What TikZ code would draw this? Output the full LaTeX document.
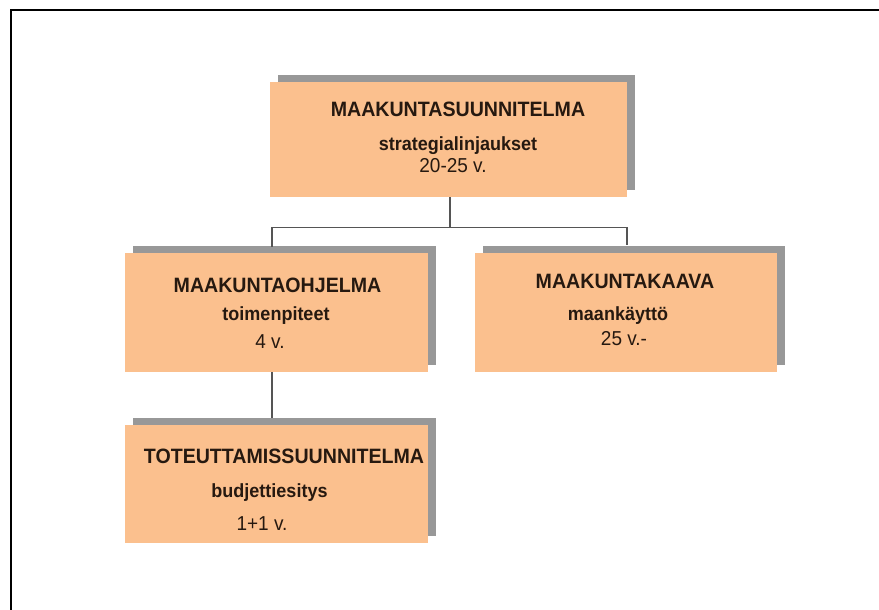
\documentclass[tikz,border=0pt]{standalone}
\usepackage{fontspec}
\setmainfont{Liberation Sans}
\usepackage{xcolor}
\usetikzlibrary{shadows}
\definecolor{boxfill}{RGB}{251,192,142}
\definecolor{boxshade}{RGB}{152,152,152}
\definecolor{inktext}{RGB}{38,25,16}
\definecolor{wiregray}{RGB}{85,85,85}
\newcommand\headfont{\fontsize{19.6}{22}\selectfont\bfseries}
\newcommand\subfont{\fontsize{18}{20}\selectfont\bfseries}
\newcommand\spanfont{\fontsize{19}{21}\selectfont}

\begin{document}
\begin{tikzpicture}[x=1pt, y=-1pt,
		box/.style={fill=boxfill, inner sep=0, minimum width=303pt, minimum height=119pt,
			general shadow={fill=boxshade, shadow xshift=8pt, shadow yshift=7pt}},
		head/.style={anchor=base, text=inktext, inner sep=0, font=\headfont, yscale=1.06},
		sub/.style={anchor=base, text=inktext, inner sep=0, font=\subfont, yscale=1.06},
		span/.style={anchor=base, text=inktext, inner sep=0, font=\spanfont, yscale=1.06},
		wire/.style={draw=wiregray, line width=1.2pt}]
	\useasboundingbox (0,0) rectangle (879,610);
	% outer frame
	\draw[black, line width=1.5pt] (11,610) -- (11,10) -- (879,10);
	% boxes
	\node[box, minimum width=357pt, minimum height=115pt] (plan) at (448.5,139.5) {};
	\node[box] (ohjelma) at (276.5,312.5) {};
	\node[box, minimum width=302pt] (kaava) at (626,312.5) {};
	\node[box, minimum height=118pt] (toteutus) at (276.5,484) {};
	% connectors
	\draw[wire] ([xshift=1.5pt]plan.south) -- ++(0,30) coordinate (fork);
	\draw[wire] ([xshift=-4.5pt,yshift=6pt]ohjelma.north) |- (fork) -| ([xshift=1pt,yshift=8pt]kaava.north);
	\draw[wire] ([xshift=-4.5pt]ohjelma.south) -- ([xshift=-4.5pt,yshift=7pt]toteutus.north);
	% texts
	\node[head] (plan-head) at (458,117) {MAAKUNTASUUNNITELMA};
	\node[sub] (plan-sub) at (458,150) {strategialinjaukset};
	\node[span] (plan-span) at (453,172) {20-25 v.};
	\node[head] (ohjelma-head) at (277.5,292) {MAAKUNTAOHJELMA};
	\node[sub] (ohjelma-sub) at (276,320) {toimenpiteet};
	\node[span] (ohjelma-span) at (270,348) {4 v.};
	\node[head] (kaava-head) at (625,288) {MAAKUNTAKAAVA};
	\node[sub] (kaava-sub) at (618,320) {maankäyttö};
	\node[span] (kaava-span) at (624,345) {25 v.-};
	\node[head] (toteutus-head) at (284,463) {TOTEUTTAMISSUUNNITELMA};
	\node[sub] (toteutus-sub) at (269.5,497) {budjettiesitys};
	\node[span] (toteutus-span) at (262,530) {1+1 v.};
\end{tikzpicture}
\end{document}
